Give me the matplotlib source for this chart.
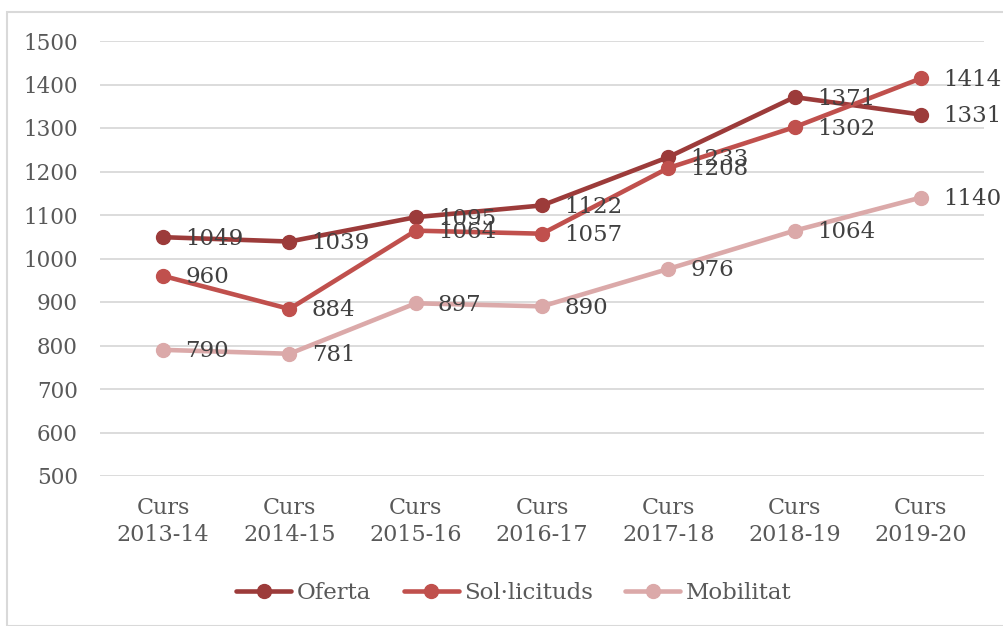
import matplotlib
matplotlib.use("Agg")
import matplotlib.pyplot as plt
from matplotlib.patches import Rectangle

categories = ["Curs\n2013-14", "Curs\n2014-15", "Curs\n2015-16", "Curs\n2016-17",
              "Curs\n2017-18", "Curs\n2018-19", "Curs\n2019-20"]
oferta = [1049, 1039, 1095, 1122, 1233, 1371, 1331]
sollicituds = [960, 884, 1064, 1057, 1208, 1302, 1414]
mobilitat = [790, 781, 897, 890, 976, 1064, 1140]
yticks = [500, 600, 700, 800, 900, 1000, 1100, 1200, 1300, 1400, 1500]

series = [("Oferta", oferta, "#9c3b3a"),
          ("Sol·licituds", sollicituds, "#c0504d"),
          ("Mobilitat", mobilitat, "#dba9a9")]

plt.rcParams['font.family'] = ['DejaVu Serif']

fig = plt.figure(figsize=(10.04, 6.26), dpi=100)
fig.patches.append(Rectangle((7/1004, 0), 1.0, 1 - 12/626, transform=fig.transFigure,
                             fill=False, edgecolor="#d9d9d9", linewidth=1.5))
ax = fig.add_axes([100/1004, 1 - 476/626, 884/1004, (476 - 41)/626])

x = list(range(len(categories)))
for name, vals, col in series:
    ax.plot(x, vals, color=col, linewidth=3.3, marker='o', markersize=10,
            label=name, solid_capstyle='round', zorder=3)
for name, vals, col in series:
    for xi, v in zip(x, vals):
        ax.annotate(str(v), (xi, v), xytext=(16, -1), textcoords='offset points',
                    ha='left', va='center', fontsize=16.5, color='#404040', zorder=5)

ax.set_xlim(-0.5, len(categories) - 0.5)
ax.set_ylim(500, 1500)
ax.set_yticks(yticks)
ax.set_xticks(x)
ax.set_xticklabels(categories, fontsize=16, color='#595959', linespacing=1.3)
ax.tick_params(axis='y', labelsize=15.5, labelcolor='#595959', length=0, pad=16)
ax.tick_params(axis='x', length=0, pad=15)
ax.grid(axis='y', color='#d9d9d9', linewidth=1.3)
ax.set_axisbelow(True)
for s in ax.spines.values():
    s.set_visible(False)

fig.legend(loc='center', bbox_to_anchor=(514/1004, 1 - 593/626), ncol=3, frameon=False,
           fontsize=16.5, handlelength=2.4, handletextpad=0.25, columnspacing=1.4,
           labelcolor='#595959')

fig.savefig("out.png", dpi=100)
